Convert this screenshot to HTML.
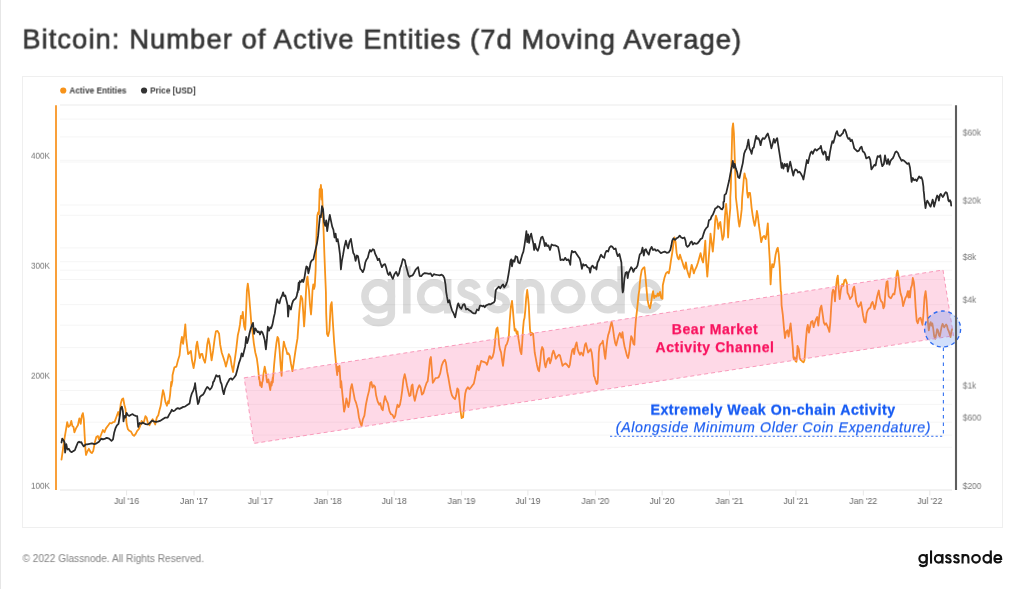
<!DOCTYPE html>
<html><head><meta charset="utf-8"><title>Bitcoin: Number of Active Entities</title>
<style>
html,body{margin:0;padding:0;background:#fff;}
body{width:1024px;height:589px;position:relative;overflow:hidden;font-family:"Liberation Sans",sans-serif;}
#edge{position:absolute;left:0;top:0;width:1px;height:589px;background:#e6e6e6;}
#title{position:absolute;font-size:27.4px;color:#363636;white-space:nowrap;line-height:38px;letter-spacing:1.05px;-webkit-text-stroke:0.65px #363636;}
#panel{position:absolute;left:22px;top:76px;width:980.8px;height:452px;border:1.5px solid #efefef;box-sizing:border-box;}
.lg{position:absolute;letter-spacing:0.02px;font-size:8.25px;font-weight:bold;color:#3a3a3a;line-height:12px;white-space:nowrap;}
.xl{position:absolute;width:60px;text-align:center;font-size:8.75px;color:#666;line-height:12px;white-space:nowrap;}
.yl{position:absolute;width:50px;text-align:right;font-size:8.2px;color:#777;line-height:12px;}
.yr{position:absolute;font-size:8.35px;color:#777;line-height:12px;}
#foot{position:absolute;letter-spacing:0.02px;font-size:10.15px;color:#808080;line-height:14px;white-space:nowrap;}
svg{position:absolute;left:0;top:0;}
.ann{position:absolute;white-space:nowrap;text-align:center;}
#title,.lg,.xl,.yl,.yr,#foot,.ann{will-change:transform;}
</style></head><body>
<div id="edge"></div>
<div id="title" style="left:22px;top:20px;transform:translate(0.30px,0.70px) rotate(0.03deg);">Bitcoin: Number of Active Entities (7d Moving Average)</div>
<div id="panel"></div>
<div class="lg" style="left:69px;top:85px;transform:translate(0.40px,0.50px) rotate(0.03deg);">Active Entities</div>
<div class="lg" style="left:150px;top:85px;transform:translate(0.20px,0.50px) rotate(0.03deg);">Price [USD]</div>
<svg width="1024" height="589" viewBox="0 0 1024 589">
<g stroke="#f5f5f5" stroke-width="1" fill="none"><line x1="60" x2="952" y1="105" y2="105" stroke-width="1.8"/><line x1="60" x2="952" y1="119.10" y2="119.10"/><line x1="60" x2="952" y1="136.92" y2="136.92"/><line x1="60" x2="952" y1="160.30" y2="160.30"/><line x1="60" x2="952" y1="162.04" y2="162.04"/><line x1="60" x2="952" y1="204.97" y2="204.97"/><line x1="60" x2="952" y1="215.25" y2="215.25"/><line x1="60" x2="952" y1="247.91" y2="247.91"/><line x1="60" x2="952" y1="261.73" y2="261.73"/><line x1="60" x2="952" y1="270.20" y2="270.20"/><line x1="60" x2="952" y1="279.55" y2="279.55"/><line x1="60" x2="952" y1="304.67" y2="304.67"/><line x1="60" x2="952" y1="325.15" y2="325.15"/><line x1="60" x2="952" y1="347.60" y2="347.60"/><line x1="60" x2="952" y1="380.10" y2="380.10"/><line x1="60" x2="952" y1="390.54" y2="390.54"/><line x1="60" x2="952" y1="404.36" y2="404.36"/><line x1="60" x2="952" y1="422.18" y2="422.18"/><line x1="60" x2="952" y1="435.05" y2="435.05"/><line x1="60" x2="952" y1="447.30" y2="447.30"/><line x1="60" x2="952" y1="490" y2="490" stroke="#e4e4e4"/><g stroke="#e8e8e8"><line x1="126.6" x2="126.6" y1="490" y2="495.5"/><line x1="194.0" x2="194.0" y1="490" y2="495.5"/><line x1="260.4" x2="260.4" y1="490" y2="495.5"/><line x1="327.8" x2="327.8" y1="490" y2="495.5"/><line x1="394.2" x2="394.2" y1="490" y2="495.5"/><line x1="461.6" x2="461.6" y1="490" y2="495.5"/><line x1="527.9" x2="527.9" y1="490" y2="495.5"/><line x1="595.4" x2="595.4" y1="490" y2="495.5"/><line x1="662.1" x2="662.1" y1="490" y2="495.5"/><line x1="729.5" x2="729.5" y1="490" y2="495.5"/><line x1="795.9" x2="795.9" y1="490" y2="495.5"/><line x1="863.3" x2="863.3" y1="490" y2="495.5"/><line x1="929.8" x2="929.8" y1="490" y2="495.5"/></g></g>
<g transform="translate(361.1,313.5) scale(0.345)" stroke="#000" opacity="0.14"><g fill="none" stroke-width="21.7" stroke-linecap="butt">
<ellipse cx="49.5" cy="-50" rx="38.5" ry="39.5"/><path d="M87.7,-100 V0 C87.7,18 73,26.5 50,26.5 C33,26.5 20,20 13,8"/>
<path d="M132.5,-137 V0"/>
<ellipse cx="211" cy="-50" rx="38.5" ry="39.5"/><path d="M251,-100 V0"/>
<path d="M337,-72 C332,-84 322,-89 312,-89 C299,-89 290,-82 290,-72 C290,-60 301,-56 313,-52 C326,-48 337,-43 337,-30 C337,-18 326,-11 313,-11 C300,-11 290,-17 286,-29"/>
<path d="M421,-72 C416,-84 406,-89 396,-89 C383,-89 374,-82 374,-72 C374,-60 385,-56 397,-52 C410,-48 421,-43 421,-30 C421,-18 410,-11 397,-11 C384,-11 374,-17 370,-29"/>
<path d="M460,-100 V0 M460,-54 C460,-77 472,-89.2 490.5,-89.2 C509,-89.2 521,-77 521,-54 V0"/>
<ellipse cx="600" cy="-50" rx="39.7" ry="39.5"/>
<ellipse cx="715.5" cy="-50" rx="38.5" ry="39.5"/><path d="M753.5,-137 V0"/>
<path d="M793,-47 H862 C862,-75 848,-89.2 827,-89.2 C806,-89.2 791.2,-72 791.2,-50 C791.2,-28 806,-10.8 828,-10.8 C843,-10.8 854,-17 861,-29"/>
</g></g>
<path d="M61.5,459.7 L63.0,448.8 L64.6,437.8 L66.2,428.4 L67.2,422.2 L68.5,426.9 L70.1,425.3 L71.3,420.9 L72.4,426.1 L73.5,426.9 L74.4,432.3 L76.0,428.4 L77.9,425.3 L79.4,418.3 L80.7,423.8 L81.8,415.9 L82.9,413.1 L83.8,419.1 L84.6,434.7 L85.4,448.8 L86.0,455.0 L87.2,451.9 L88.8,448.8 L90.7,452.2 L91.9,453.1 L93.2,451.1 L94.8,442.5 L96.3,437.0 L97.9,435.9 L99.0,439.4 L100.5,436.2 L102.9,430.0 L104.4,432.3 L106.0,428.4 L108.3,425.3 L109.9,423.0 L111.5,423.4 L113.0,422.2 L114.6,421.9 L116.2,417.5 L118.2,412.0 L119.3,415.9 L120.8,403.4 L121.9,399.5 L123.2,398.4 L124.4,405.0 L125.5,408.9 L126.6,423.8 L127.9,429.2 L129.4,430.8 L131.0,431.6 L132.6,434.7 L134.1,435.9 L135.7,433.9 L137.2,430.8 L138.8,429.2 L140.4,425.3 L141.6,420.9 L142.7,423.4 L143.8,422.2 L145.4,416.2 L146.6,417.5 L147.9,423.0 L149.4,425.3 L151.0,422.2 L152.6,419.1 L154.1,421.9 L155.2,424.5 L156.8,417.5 L158.3,415.2 L159.4,410.5 L160.7,405.8 L161.9,397.2 L163.0,390.2 L164.1,394.1 L165.4,401.9 L166.9,405.8 L168.2,401.1 L168.8,403.4 L170.1,394.8 L171.2,382.0 L171.3,386.2 L172.4,380.8 L172.5,375.2 L174.4,367.3 L176.4,366.6 L178.0,360.3 L179.5,355.6 L180.6,344.7 L181.9,336.9 L183.1,343.9 L184.2,335.3 L185.3,324.4 L186.2,338.4 L187.3,347.8 L188.1,354.1 L189.7,352.5 L190.9,350.9 L192.0,360.3 L193.6,368.1 L195.2,358.8 L196.2,346.2 L197.2,341.6 L198.3,349.4 L199.8,358.0 L200.9,354.1 L202.2,353.8 L203.4,358.8 L205.0,362.7 L206.1,355.6 L207.2,344.7 L208.4,338.4 L209.7,344.7 L210.8,354.1 L211.6,360.3 L213.1,350.9 L214.7,338.4 L215.9,331.4 L217.5,330.9 L219.1,333.8 L220.2,344.7 L221.7,352.5 L223.3,357.2 L224.8,361.9 L225.9,366.6 L227.5,360.3 L228.8,354.1 L230.3,357.2 L231.6,365.0 L233.1,372.0 L234.7,360.3 L236.2,349.4 L237.8,335.3 L238.9,330.6 L240.0,324.4 L240.9,315.8 L242.0,318.1 L242.8,311.9 L244.1,325.9 L245.2,329.8 L246.2,308.8 L246.9,290.5 L247.8,283.6 L248.7,290.5 L250.3,310.3 L251.4,324.4 L252.5,331.4 L253.8,343.1 L255.3,352.5 L256.9,358.8 L258.1,368.1 L259.1,379.4 L259.2,377.5 L260.2,385.6 L260.3,382.0 L261.7,387.2 L262.3,382.0 L262.8,380.9 L263.4,374.4 L264.7,366.6 L265.9,372.8 L267.0,382.0 L267.2,382.5 L268.4,379.4 L269.5,385.6 L270.3,390.0 L271.2,382.0 L271.6,385.6 L272.8,377.5 L272.8,382.5 L274.1,365.0 L275.3,352.5 L276.4,343.1 L277.5,336.9 L278.4,338.4 L279.5,349.4 L280.6,365.0 L281.6,375.9 L282.7,352.5 L283.8,341.6 L285.0,346.2 L286.2,349.4 L287.3,354.1 L288.4,353.3 L289.7,355.6 L290.9,363.4 L292.5,371.2 L294.1,360.3 L295.2,352.5 L296.2,346.2 L297.5,338.4 L299.2,313.4 L300.3,301.2 L301.0,295.8 L302.3,298.9 L303.3,313.4 L304.1,326.4 L305.0,313.4 L305.9,293.5 L306.7,279.8 L307.5,276.7 L308.2,284.3 L309.0,290.5 L309.9,304.2 L311.0,314.5 L311.7,305.7 L312.5,290.5 L313.3,284.3 L314.0,288.9 L314.8,285.9 L315.6,270.6 L316.6,231.2 L317.3,215.6 L318.1,212.5 L318.9,214.1 L319.7,189.2 L319.7,200.0 L320.9,185.0 L322.0,200.0 L322.0,189.2 L322.8,212.5 L323.6,231.2 L324.4,254.7 L325.2,275.0 L325.9,292.0 L326.2,313.4 L327.0,333.8 L328.1,336.1 L329.4,330.6 L330.6,305.6 L331.7,302.2 L332.8,321.2 L334.1,341.6 L335.3,355.6 L336.4,368.1 L337.2,375.2 L338.0,366.6 L338.8,371.2 L339.5,365.8 L340.3,379.1 L340.6,387.5 L341.2,381.2 L342.2,392.2 L343.3,403.1 L344.1,411.7 L345.3,406.2 L346.4,398.4 L347.2,401.6 L348.4,407.0 L349.5,401.6 L350.6,389.1 L351.9,384.1 L353.1,390.6 L354.7,399.2 L356.2,403.1 L357.8,409.4 L358.9,417.2 L360.5,423.4 L361.6,425.8 L362.8,419.5 L364.4,415.6 L365.9,404.7 L367.5,396.9 L369.1,390.6 L370.3,382.8 L371.4,382.0 L372.5,387.5 L373.8,385.2 L375.0,386.7 L376.1,395.3 L377.7,401.6 L379.2,404.7 L380.3,403.1 L381.6,408.6 L382.8,410.2 L383.9,401.6 L385.0,396.1 L386.2,400.0 L387.8,403.1 L389.4,410.9 L390.9,414.1 L392.5,414.8 L394.1,418.0 L395.3,415.6 L396.4,409.4 L397.5,404.7 L398.8,407.0 L400.0,404.7 L401.1,398.4 L402.2,390.6 L403.4,379.7 L404.7,374.2 L405.8,378.9 L406.9,385.2 L408.1,390.6 L409.4,396.1 L410.5,395.3 L411.6,385.9 L412.5,384.4 L413.6,395.3 L414.8,400.8 L415.9,396.1 L417.2,390.6 L418.3,387.5 L419.4,385.2 L420.6,387.5 L421.9,394.5 L423.4,393.0 L425.0,387.5 L426.6,382.8 L427.7,381.2 L428.8,371.9 L430.0,359.4 L430.9,357.0 L431.9,370.3 L432.8,382.8 L433.9,381.2 L435.5,378.1 L437.0,377.8 L438.6,377.3 L440.2,373.4 L441.7,365.6 L443.3,361.7 L444.8,359.7 L445.9,362.5 L447.2,371.9 L448.4,377.8 L449.5,384.4 L450.6,390.6 L451.9,395.3 L453.4,397.7 L455.0,399.2 L456.2,395.3 L457.3,388.3 L458.4,389.8 L459.4,400.0 L460.5,410.9 L461.6,418.0 L463.1,417.2 L464.1,404.7 L465.2,393.8 L466.2,389.8 L467.8,387.2 L469.4,389.1 L470.9,387.5 L472.5,385.2 L473.8,383.6 L475.0,378.1 L476.2,371.9 L477.5,365.6 L478.8,370.3 L480.0,365.6 L481.2,360.9 L482.8,361.7 L484.4,362.2 L485.9,362.8 L487.0,364.8 L488.1,360.9 L489.4,356.2 L490.2,356.4 L491.2,358.8 L492.5,357.2 L493.8,352.5 L494.8,344.7 L495.6,335.3 L496.4,329.1 L497.5,327.5 L498.4,335.3 L499.1,344.7 L500.0,349.4 L501.1,352.5 L501.9,358.8 L503.0,365.8 L503.8,358.8 L504.7,350.9 L505.8,345.5 L506.9,343.9 L508.1,340.0 L508.9,335.3 L509.7,321.2 L510.8,307.2 L512.0,300.9 L512.8,308.8 L513.8,321.2 L514.7,330.6 L515.6,329.1 L516.7,333.8 L517.5,331.4 L518.4,338.4 L519.4,344.7 L520.3,350.9 L521.4,354.1 L522.2,343.1 L523.0,329.1 L523.8,320.5 L524.5,318.1 L525.3,310.3 L526.2,297.8 L527.2,290.0 L528.1,297.8 L528.8,305.6 L529.4,318.1 L530.0,329.1 L530.8,335.3 L531.9,333.0 L533.1,333.8 L533.9,343.1 L534.7,352.5 L535.9,358.8 L537.0,365.0 L538.1,369.7 L539.1,371.2 L540.2,361.9 L541.2,350.9 L542.2,347.0 L543.3,349.4 L544.1,358.8 L544.8,364.2 L545.6,367.3 L546.9,361.9 L548.0,358.8 L549.1,358.0 L550.0,363.4 L551.1,360.3 L552.2,354.1 L553.4,350.6 L554.7,354.1 L555.8,358.8 L557.3,356.4 L558.9,354.8 L560.0,355.6 L561.2,360.3 L562.5,365.8 L564.1,364.2 L565.6,363.4 L567.2,365.0 L568.8,367.3 L569.8,365.0 L570.9,357.2 L572.2,350.2 L573.4,348.6 L574.1,354.1 L575.3,346.2 L576.6,342.3 L577.7,349.4 L578.8,352.5 L580.0,354.8 L581.2,352.5 L582.3,354.1 L583.1,355.6 L583.9,350.9 L585.0,344.7 L585.9,343.1 L587.0,347.8 L588.1,352.5 L589.4,350.9 L590.6,349.1 L591.7,352.5 L592.8,361.9 L593.9,376.0 L594.6,377.0 L595.3,379.7 L596.3,383.1 L596.8,384.1 L597.5,383.1 L598.0,377.0 L598.8,352.5 L599.5,346.2 L600.6,343.9 L601.9,343.1 L602.8,340.8 L603.8,347.8 L604.7,355.6 L605.3,358.8 L606.2,349.4 L607.3,340.0 L608.1,335.3 L609.4,331.4 L610.5,325.9 L611.6,322.0 L612.8,327.5 L614.1,336.9 L615.2,343.1 L616.2,345.5 L617.5,340.0 L618.8,335.3 L619.8,333.0 L620.6,334.5 L621.4,337.7 L622.5,332.2 L623.4,340.0 L624.5,346.2 L625.6,350.2 L626.9,355.6 L628.1,358.0 L629.2,352.5 L630.3,343.1 L631.2,336.1 L632.3,338.4 L633.4,343.9 L634.4,344.7 L635.0,330.6 L635.9,319.7 L637.0,310.3 L637.8,302.5 L638.6,294.7 L639.4,290.0 L639.7,284.4 L640.6,276.6 L641.7,270.3 L643.3,268.0 L644.4,267.2 L645.3,275.0 L646.4,287.5 L647.5,299.7 L648.8,305.9 L650.0,308.3 L651.1,302.8 L652.2,295.0 L653.1,291.1 L654.2,298.1 L655.3,295.8 L656.6,296.6 L657.8,293.4 L658.9,295.8 L660.0,291.9 L661.2,298.1 L662.5,298.9 L662.8,285.2 L664.4,278.1 L665.9,273.4 L667.5,271.9 L668.8,273.4 L669.8,268.8 L670.9,260.9 L672.2,253.1 L673.4,243.8 L674.5,237.5 L675.6,242.2 L676.6,253.1 L677.7,257.8 L678.8,259.4 L680.0,254.7 L681.2,258.6 L682.3,261.7 L683.4,265.6 L684.7,268.8 L685.9,262.5 L687.0,269.5 L688.1,273.4 L689.4,277.3 L690.6,270.3 L691.7,264.8 L692.8,268.8 L693.8,273.4 L694.8,270.3 L696.4,267.2 L698.0,262.5 L699.5,257.0 L700.6,253.1 L701.9,259.4 L703.1,262.5 L704.2,253.1 L705.3,240.6 L706.2,262.5 L707.3,276.6 L708.4,262.5 L709.7,245.3 L710.5,233.6 L711.6,242.2 L712.8,251.6 L714.1,237.5 L715.2,220.3 L715.9,215.6 L717.2,220.3 L718.3,228.9 L719.4,223.4 L720.3,221.9 L721.4,231.2 L722.5,239.8 L723.8,235.9 L725.0,215.6 L726.1,203.9 L727.2,215.6 L728.1,237.5 L729.2,220.3 L730.3,207.8 L730.3,197.5 L730.8,188.1 L731.6,156.9 L732.3,128.8 L733.1,123.3 L733.9,133.4 L734.7,156.9 L735.5,180.3 L735.9,197.5 L737.5,210.9 L738.6,221.9 L739.4,226.6 L740.6,218.8 L741.7,209.4 L742.2,197.5 L742.8,191.2 L743.8,178.8 L744.5,173.3 L745.3,177.2 L746.4,179.5 L747.2,192.8 L748.0,197.5 L748.8,192.8 L750.0,192.8 L750.6,197.5 L751.6,207.8 L752.7,215.6 L753.8,221.9 L754.7,225.8 L755.8,220.3 L756.9,210.9 L757.8,215.6 L758.9,225.0 L760.0,232.8 L761.2,242.2 L762.5,237.5 L764.1,235.9 L765.6,239.1 L766.7,233.6 L767.8,223.4 L768.8,243.8 L769.8,260.9 L770.6,284.4 L771.4,270.3 L772.2,264.1 L773.4,267.2 L774.5,262.5 L775.6,254.7 L776.9,249.2 L777.8,247.7 L778.8,254.7 L779.7,267.2 L780.3,281.2 L780.8,291.2 L781.2,292.0 L781.6,305.3 L782.8,314.7 L783.9,327.2 L785.0,338.1 L786.2,331.9 L787.5,330.3 L788.6,336.6 L789.7,328.8 L790.6,323.3 L791.7,335.0 L792.8,347.5 L793.4,357.4 L794.1,359.4 L794.8,357.4 L795.6,361.3 L796.4,361.8 L797.1,354.4 L797.5,345.9 L798.8,349.1 L799.7,357.4 L800.5,359.9 L801.5,360.4 L802.5,361.8 L803.5,362.3 L804.4,360.4 L804.9,354.4 L805.8,341.2 L806.9,328.8 L807.8,324.8 L808.9,332.7 L810.0,327.2 L811.2,321.7 L812.5,320.9 L813.6,327.2 L814.7,323.3 L815.9,319.4 L817.2,317.0 L818.3,325.6 L819.4,314.7 L820.3,308.4 L821.4,305.6 L822.5,313.1 L823.8,322.5 L825.0,324.8 L826.1,323.3 L827.2,325.6 L828.4,328.8 L829.4,331.9 L830.3,322.5 L831.2,306.9 L832.3,292.8 L833.1,289.7 L834.1,291.2 L835.0,301.4 L835.9,288.1 L837.0,278.8 L837.8,275.6 L838.6,288.1 L839.7,299.1 L840.9,289.7 L842.2,284.2 L843.3,285.8 L844.4,280.3 L845.6,279.5 L846.9,283.4 L847.5,292.8 L848.8,295.2 L850.0,299.1 L851.1,297.5 L852.2,295.9 L853.1,288.9 L854.2,286.6 L855.3,293.6 L856.2,301.4 L857.3,304.5 L858.4,306.9 L859.7,305.3 L860.9,302.2 L862.0,308.4 L863.1,315.5 L864.4,321.7 L865.6,322.5 L866.7,313.1 L867.8,310.0 L869.1,308.4 L870.3,307.7 L871.4,303.8 L872.5,301.9 L873.4,304.5 L874.5,309.2 L875.6,305.3 L876.9,297.5 L878.1,292.8 L878.8,290.5 L880.0,298.3 L881.2,301.4 L882.3,302.2 L883.4,308.4 L884.4,306.1 L885.5,291.2 L886.6,281.9 L887.5,281.1 L888.6,295.9 L889.7,297.5 L890.9,298.3 L892.2,295.9 L893.3,293.6 L894.4,294.4 L895.6,286.6 L896.6,274.1 L897.5,270.6 L898.4,275.6 L899.5,286.6 L900.6,293.6 L901.9,297.5 L903.1,306.1 L904.2,302.2 L905.3,298.3 L906.6,295.9 L907.8,291.2 L908.4,297.5 L909.4,291.2 L910.0,297.5 L910.9,288.1 L912.0,285.0 L912.8,278.0 L913.8,281.9 L914.7,291.2 L915.6,306.9 L916.7,320.9 L917.8,323.3 L919.1,318.6 L920.6,317.8 L921.9,322.5 L922.5,324.8 L923.4,314.7 L924.5,297.5 L925.6,291.2 L926.6,300.6 L927.9,322.1 L928.8,330.4 L929.7,324.5 L930.7,322.1 L931.5,325.7 L932.3,323.3 L933.3,329.2 L934.2,336.4 L935.2,338.7 L936.3,334.0 L937.1,329.2 L938.0,330.4 L939.0,335.2 L939.8,336.4 L940.7,331.6 L941.6,326.8 L942.6,323.9 L943.4,325.7 L944.2,327.4 L945.2,325.7 L946.1,324.5 L947.0,325.7 L947.8,329.2 L948.7,331.0 L949.7,334.0 L950.5,337.0 L951.4,331.6 L952.1,329.2" fill="none" stroke="#f7931a" stroke-width="1.8" stroke-linejoin="round" stroke-linecap="round"/>
<path d="M61.5,442.5 L62.2,438.6 L63.5,440.2 L64.6,442.5 L65.1,452.7 L65.7,448.8 L66.3,444.1 L66.9,447.2 L67.7,449.5 L68.8,448.8 L70.1,451.1 L71.6,452.2 L73.2,451.1 L74.8,450.3 L76.3,446.4 L77.9,442.5 L79.1,441.7 L80.2,442.5 L81.3,442.2 L82.6,444.8 L83.8,446.4 L85.7,444.4 L87.2,444.4 L89.6,443.8 L91.9,443.3 L94.3,444.1 L96.6,443.3 L99.0,441.7 L101.3,438.6 L102.9,439.4 L105.2,438.6 L106.8,437.8 L109.1,438.6 L111.5,440.9 L113.0,439.4 L114.1,433.1 L115.4,428.4 L116.9,425.3 L118.5,423.8 L119.8,415.9 L120.8,408.1 L121.9,406.6 L122.9,411.2 L123.5,421.4 L124.4,415.9 L125.5,417.5 L126.6,412.8 L127.9,415.2 L129.4,415.9 L131.0,414.7 L132.6,414.1 L134.1,415.2 L135.7,415.9 L137.2,416.2 L138.2,426.9 L139.6,423.0 L141.2,423.8 L142.7,422.5 L144.3,423.4 L145.8,424.2 L147.4,424.5 L149.0,423.8 L150.5,422.2 L152.1,420.6 L153.7,421.4 L156.0,421.9 L158.3,421.4 L160.7,420.6 L163.0,419.1 L165.4,417.5 L167.7,417.5 L169.3,414.4 L170.8,412.0 L171.9,409.7 L173.2,411.2 L174.8,410.5 L176.3,408.9 L177.9,408.1 L179.4,408.9 L181.0,408.1 L183.3,406.9 L184.9,406.6 L187.2,405.0 L189.6,403.4 L190.7,397.2 L191.9,393.3 L193.5,390.2 L194.8,385.5 L195.1,383.1 L195.8,389.4 L196.9,397.2 L197.9,404.2 L199.0,401.9 L199.8,397.2 L201.3,395.6 L202.9,394.8 L204.4,392.5 L205.7,389.4 L207.2,387.0 L208.3,387.8 L209.9,389.7 L211.5,387.8 L212.7,384.7 L213.1,382.0 L213.8,381.6 L214.7,379.1 L216.2,375.2 L217.8,376.7 L219.4,375.6 L220.6,382.0 L221.6,384.1 L222.7,390.3 L223.8,394.2 L225.0,388.8 L226.6,384.8 L227.8,382.0 L228.0,382.0 L229.5,379.1 L231.1,378.3 L232.2,379.8 L234.2,377.5 L235.8,375.2 L237.3,369.7 L238.9,363.4 L240.5,358.8 L241.6,353.3 L242.8,356.4 L244.1,350.9 L245.2,346.2 L246.2,336.9 L247.2,343.1 L248.3,339.2 L249.4,333.8 L250.6,329.1 L251.9,325.2 L253.0,322.8 L254.1,333.8 L255.3,328.3 L256.6,330.6 L257.7,332.2 L258.8,331.4 L260.0,334.5 L261.2,331.4 L262.3,332.2 L263.4,335.3 L264.7,340.0 L265.9,349.4 L267.0,338.4 L267.8,326.7 L269.1,330.6 L270.2,327.5 L271.2,328.3 L272.5,324.4 L273.8,317.3 L274.8,313.4 L275.9,305.6 L277.2,299.4 L278.4,302.5 L279.5,303.3 L280.6,298.6 L281.9,296.2 L283.1,292.3 L284.2,296.2 L285.3,295.5 L286.6,300.9 L287.5,304.8 L288.1,316.6 L289.1,305.6 L290.0,308.0 L290.9,309.5 L292.0,304.1 L293.1,300.9 L294.4,299.4 L295.6,298.6 L296.7,296.2 L297.5,292.0 L297.8,292.3 L298.6,282.8 L298.8,290.0 L299.7,281.2 L300.9,282.0 L302.2,279.7 L303.3,282.0 L304.4,278.1 L305.6,270.3 L306.4,266.4 L307.5,267.2 L308.4,273.4 L309.5,268.8 L310.6,262.5 L311.9,260.2 L313.4,259.4 L314.7,253.1 L315.8,248.4 L316.9,243.8 L318.1,235.9 L319.1,225.0 L320.0,215.6 L320.9,217.2 L322.0,206.2 L323.1,209.4 L324.1,221.9 L325.2,225.8 L326.2,220.3 L327.2,231.2 L328.3,223.4 L329.8,214.8 L330.9,220.3 L332.2,226.6 L333.4,229.7 L334.5,237.5 L335.6,233.6 L336.6,241.4 L337.7,239.1 L338.8,245.3 L340.0,254.7 L340.9,269.5 L341.9,260.9 L343.1,254.7 L344.4,246.9 L345.9,240.6 L347.0,245.3 L348.1,248.4 L349.4,242.2 L350.9,238.8 L352.2,246.9 L353.3,253.1 L354.4,254.7 L355.6,260.9 L356.9,255.5 L358.0,256.2 L359.1,262.5 L360.3,268.8 L361.6,270.3 L362.8,272.2 L364.2,268.8 L365.3,262.5 L366.6,259.4 L367.8,257.8 L368.9,253.1 L370.0,250.0 L371.2,251.6 L372.8,249.2 L374.1,250.0 L375.2,253.9 L376.7,257.0 L377.8,260.2 L379.1,258.6 L380.3,262.5 L381.9,267.2 L383.4,264.8 L385.0,264.1 L386.1,267.2 L387.7,273.4 L388.8,275.0 L390.0,272.2 L391.6,276.6 L392.8,278.9 L394.4,274.2 L396.2,271.9 L397.8,275.8 L399.1,273.4 L400.2,268.0 L401.2,265.6 L402.8,259.1 L404.8,260.2 L405.9,265.6 L407.2,270.3 L408.4,275.0 L409.5,276.9 L411.1,275.8 L412.7,275.3 L414.2,272.7 L415.8,269.5 L418.1,267.2 L419.7,275.8 L421.2,276.2 L422.8,274.2 L424.7,273.1 L426.7,273.4 L429.1,273.8 L430.6,273.4 L432.2,276.2 L433.8,274.2 L435.3,274.7 L437.7,275.0 L439.7,275.3 L441.6,274.7 L443.1,275.8 L444.4,278.1 L445.5,284.4 L446.2,292.0 L446.9,296.2 L448.1,302.5 L449.4,300.2 L450.5,305.6 L452.0,310.3 L453.6,313.4 L455.2,317.3 L456.2,311.9 L457.5,305.6 L458.3,303.3 L459.8,307.2 L461.4,308.8 L463.0,304.8 L464.5,304.1 L466.1,309.5 L467.7,308.8 L469.2,310.3 L470.8,311.1 L472.3,312.7 L473.9,313.4 L475.5,313.4 L477.0,309.5 L478.6,310.3 L480.0,305.6 L481.2,305.6 L482.3,306.4 L483.4,305.6 L484.7,307.2 L485.9,305.6 L487.5,304.8 L489.1,304.1 L490.6,304.4 L492.2,303.3 L493.8,302.5 L494.8,300.9 L495.3,294.7 L495.6,292.0 L495.9,290.0 L497.2,288.3 L498.8,286.7 L500.3,288.3 L501.9,285.6 L503.1,284.4 L504.2,287.5 L505.8,285.2 L507.3,281.2 L508.4,275.0 L509.4,268.8 L510.5,260.9 L511.2,259.4 L512.0,266.4 L513.1,260.2 L514.4,261.7 L515.6,256.2 L517.2,257.0 L518.3,262.5 L519.8,263.3 L520.9,259.4 L522.2,254.7 L523.4,251.6 L524.5,245.3 L525.6,237.5 L526.4,231.2 L527.2,242.2 L528.1,234.4 L529.1,243.0 L530.0,236.7 L531.2,233.6 L532.3,239.1 L533.4,243.8 L534.1,250.0 L535.0,243.8 L536.2,248.4 L537.8,250.8 L539.1,246.9 L540.2,241.4 L541.2,237.5 L542.5,236.7 L543.8,240.6 L544.8,246.1 L545.9,243.0 L547.2,246.1 L548.4,245.3 L550.0,250.0 L551.6,244.5 L553.1,245.3 L555.0,245.3 L556.6,246.1 L558.1,246.9 L559.4,253.1 L560.5,260.2 L562.0,259.4 L563.6,260.2 L565.2,257.8 L566.7,260.2 L568.3,259.4 L569.4,261.7 L570.3,264.8 L570.9,256.2 L571.9,250.8 L573.4,252.3 L575.0,251.6 L576.6,253.9 L578.1,256.2 L579.7,258.6 L580.8,262.5 L581.9,268.8 L583.1,264.1 L584.4,265.6 L585.9,264.8 L587.5,267.2 L589.1,268.0 L590.2,272.7 L591.2,267.2 L592.5,265.6 L594.1,268.0 L595.6,267.2 L596.4,269.5 L597.5,262.5 L598.8,260.2 L600.0,257.0 L601.1,254.7 L602.7,257.0 L604.2,257.8 L605.3,253.1 L606.6,250.8 L608.1,251.6 L609.4,247.7 L610.9,246.1 L612.5,246.9 L614.1,249.2 L615.6,248.4 L616.7,253.1 L617.8,256.2 L619.4,253.9 L620.3,257.8 L621.4,262.5 L621.9,275.0 L622.2,287.5 L622.7,292.5 L623.3,290.6 L623.8,285.2 L624.5,278.1 L625.6,272.7 L626.9,271.9 L627.7,278.1 L628.4,273.4 L629.7,270.3 L631.2,267.2 L632.3,268.8 L633.4,271.9 L634.7,268.8 L636.2,268.0 L637.5,265.6 L638.6,260.2 L639.7,254.7 L640.2,253.9 L641.2,253.1 L642.5,247.7 L643.8,255.5 L644.8,250.0 L645.9,249.2 L647.2,252.3 L648.8,254.7 L650.0,250.0 L651.6,246.9 L653.1,250.0 L654.7,249.2 L656.2,250.8 L657.8,250.0 L659.4,251.6 L660.9,253.1 L662.8,252.3 L664.7,251.6 L666.7,252.8 L668.8,252.3 L670.3,250.0 L671.4,245.3 L672.2,240.6 L673.4,238.3 L675.0,239.8 L676.6,238.3 L678.1,237.5 L679.7,235.6 L681.2,237.5 L682.8,238.3 L684.4,237.5 L685.5,240.6 L686.2,245.3 L687.5,246.9 L689.1,245.3 L690.6,242.2 L691.7,241.4 L692.8,244.5 L694.4,243.0 L695.9,243.8 L697.5,243.4 L699.1,241.4 L700.6,239.1 L702.2,238.3 L703.4,234.4 L704.7,230.5 L706.2,228.1 L707.8,226.6 L708.9,220.3 L710.5,219.5 L711.6,216.4 L712.8,214.8 L714.1,211.7 L715.2,208.6 L716.7,207.8 L717.8,206.2 L719.4,207.0 L720.6,208.6 L722.2,209.4 L723.4,207.0 L723.4,202.0 L724.1,201.6 L724.5,195.2 L726.1,193.6 L727.7,186.6 L729.2,180.3 L730.3,174.1 L731.6,167.8 L732.8,160.8 L733.9,167.8 L734.7,163.9 L735.9,168.6 L737.0,171.7 L738.1,177.2 L739.4,178.0 L740.6,172.5 L741.7,167.8 L742.8,163.1 L744.1,153.8 L745.3,150.6 L746.4,149.1 L747.5,144.4 L748.4,139.7 L749.5,148.3 L750.6,150.6 L751.6,153.8 L752.7,148.3 L753.8,147.5 L755.0,141.2 L756.2,135.8 L757.3,138.9 L758.4,138.1 L759.7,141.2 L760.6,145.2 L761.6,140.5 L762.8,138.1 L764.4,138.9 L765.6,137.3 L766.7,135.0 L767.8,133.4 L769.1,138.1 L770.3,142.8 L771.4,148.3 L772.5,144.4 L773.8,138.9 L775.0,142.8 L776.1,139.7 L777.2,138.1 L778.1,144.4 L779.2,151.4 L780.3,158.4 L781.6,167.8 L782.3,163.1 L783.4,168.6 L784.7,163.9 L785.9,166.2 L787.0,163.9 L787.8,171.7 L789.1,166.2 L790.2,161.6 L791.2,166.2 L792.2,170.9 L793.3,175.6 L794.4,170.9 L795.6,169.4 L796.9,170.2 L798.0,172.5 L799.5,171.7 L801.1,174.1 L802.7,177.2 L803.4,179.5 L804.7,172.5 L805.8,166.2 L806.9,160.0 L808.1,163.1 L809.4,156.9 L810.5,153.0 L811.6,151.4 L812.8,153.8 L814.1,150.6 L815.2,149.1 L816.7,150.6 L818.3,149.1 L819.8,148.3 L820.9,145.9 L822.2,152.2 L823.4,154.5 L824.5,151.4 L825.6,152.2 L826.6,160.0 L827.7,156.9 L828.8,160.0 L830.0,152.2 L831.2,145.9 L832.3,141.2 L833.4,142.8 L834.7,138.1 L835.9,133.4 L837.0,131.1 L838.1,135.0 L839.4,135.8 L840.6,135.8 L841.7,134.2 L842.8,133.4 L843.8,130.3 L844.8,129.5 L845.9,131.9 L847.2,136.6 L848.4,138.9 L849.5,138.1 L850.6,141.2 L851.9,139.7 L853.1,143.6 L854.2,148.3 L855.8,149.8 L857.3,151.4 L858.9,150.6 L860.5,147.5 L861.6,146.7 L862.8,151.4 L864.1,152.2 L865.2,154.5 L866.2,158.4 L867.5,157.7 L869.1,156.9 L870.3,160.0 L871.4,169.4 L873.0,167.0 L874.5,164.7 L875.6,165.5 L876.6,160.0 L877.7,156.1 L879.2,156.9 L880.3,155.3 L881.2,161.6 L882.3,166.2 L883.9,163.9 L885.0,155.3 L885.9,160.0 L887.0,163.9 L888.1,159.2 L889.4,164.7 L890.6,160.8 L891.7,159.2 L892.8,158.4 L894.1,155.3 L895.3,152.2 L896.4,151.4 L898.0,153.0 L899.1,156.1 L900.3,158.4 L901.6,160.8 L902.7,160.0 L904.2,160.8 L905.8,162.3 L907.3,163.9 L908.9,163.1 L910.0,167.8 L910.9,175.6 L911.6,181.9 L912.8,178.0 L914.1,180.3 L915.6,179.5 L916.7,181.1 L917.8,178.8 L919.1,176.4 L920.3,178.0 L921.4,177.2 L922.5,180.3 L923.4,186.6 L923.6,190.4 L924.1,194.4 L924.3,197.5 L925.0,203.6 L925.5,208.2 L926.3,203.6 L927.3,200.6 L928.5,202.6 L929.6,205.2 L930.6,206.7 L931.6,203.6 L932.6,199.6 L933.4,202.6 L934.1,206.7 L935.2,202.6 L936.2,198.5 L937.2,195.5 L938.2,197.0 L938.9,200.6 L939.9,195.0 L940.8,193.9 L941.8,195.5 L942.8,197.0 L943.8,195.5 L944.8,193.4 L945.9,192.2 L946.9,192.9 L947.7,196.5 L948.4,200.6 L949.1,201.6 L949.9,200.1 L950.8,201.6 L951.2,205.7" fill="none" stroke="#2b2b2b" stroke-width="1.75" stroke-linejoin="round" stroke-linecap="round"/>
<polygon points="244.2,377.8 943,270 953.5,335.8 253.9,443.4" fill="#fb5f9c" fill-opacity="0.24" stroke="#f896b7" stroke-width="0.95" stroke-dasharray="4 3"/>
<circle cx="942.6" cy="329" r="18" fill="#5b8def" fill-opacity="0.28" stroke="#2f6bf0" stroke-width="1.35" stroke-dasharray="4 3.5"/>
<line x1="943.4" x2="943.4" y1="347.5" y2="436" stroke="#3a76f2" stroke-width="1.15" stroke-dasharray="3.5 4"/>
<line x1="610" x2="943.4" y1="436.3" y2="436.3" stroke="#2f6bf0" stroke-width="1.05" stroke-dasharray="2.2 2.2"/>
<circle cx="63.25" cy="90.5" r="3.1" fill="#f7931a"/><circle cx="144.06" cy="90.5" r="3.1" fill="#333"/>
<line x1="56" x2="56" y1="105.2" y2="490" stroke="#f9a03a" stroke-width="2"/>
<line x1="956" x2="956" y1="105.2" y2="490" stroke="#5e5e5e" stroke-width="2.1"/>
<g transform="translate(918.3,563.6) scale(0.0962)" stroke="#111"><g fill="none" stroke-width="21.7" stroke-linecap="butt">
<ellipse cx="49.5" cy="-50" rx="38.5" ry="39.5"/><path d="M87.7,-100 V0 C87.7,18 73,26.5 50,26.5 C33,26.5 20,20 13,8"/>
<path d="M132.5,-137 V0"/>
<ellipse cx="211" cy="-50" rx="38.5" ry="39.5"/><path d="M251,-100 V0"/>
<path d="M337,-72 C332,-84 322,-89 312,-89 C299,-89 290,-82 290,-72 C290,-60 301,-56 313,-52 C326,-48 337,-43 337,-30 C337,-18 326,-11 313,-11 C300,-11 290,-17 286,-29"/>
<path d="M421,-72 C416,-84 406,-89 396,-89 C383,-89 374,-82 374,-72 C374,-60 385,-56 397,-52 C410,-48 421,-43 421,-30 C421,-18 410,-11 397,-11 C384,-11 374,-17 370,-29"/>
<path d="M460,-100 V0 M460,-54 C460,-77 472,-89.2 490.5,-89.2 C509,-89.2 521,-77 521,-54 V0"/>
<ellipse cx="600" cy="-50" rx="39.7" ry="39.5"/>
<ellipse cx="715.5" cy="-50" rx="38.5" ry="39.5"/><path d="M753.5,-137 V0"/>
<path d="M793,-47 H862 C862,-75 848,-89.2 827,-89.2 C806,-89.2 791.2,-72 791.2,-50 C791.2,-28 806,-10.8 828,-10.8 C843,-10.8 854,-17 861,-29"/>
</g></g>
</svg>
<div class="xl" style="left:96px;top:495px;transform:translate(0.60px,0.00px) rotate(0.03deg);">Jul '16</div><div class="xl" style="left:164px;top:495px;transform:translate(0.00px,0.00px) rotate(0.03deg);">Jan '17</div><div class="xl" style="left:230px;top:495px;transform:translate(0.40px,0.00px) rotate(0.03deg);">Jul '17</div><div class="xl" style="left:297px;top:495px;transform:translate(0.80px,0.00px) rotate(0.03deg);">Jan '18</div><div class="xl" style="left:364px;top:495px;transform:translate(0.20px,0.00px) rotate(0.03deg);">Jul '18</div><div class="xl" style="left:431px;top:495px;transform:translate(0.60px,0.00px) rotate(0.03deg);">Jan '19</div><div class="xl" style="left:497px;top:495px;transform:translate(0.90px,0.00px) rotate(0.03deg);">Jul '19</div><div class="xl" style="left:565px;top:495px;transform:translate(0.40px,0.00px) rotate(0.03deg);">Jan '20</div><div class="xl" style="left:632px;top:495px;transform:translate(0.10px,0.00px) rotate(0.03deg);">Jul '20</div><div class="xl" style="left:699px;top:495px;transform:translate(0.50px,0.00px) rotate(0.03deg);">Jan '21</div><div class="xl" style="left:765px;top:495px;transform:translate(0.90px,0.00px) rotate(0.03deg);">Jul '21</div><div class="xl" style="left:833px;top:495px;transform:translate(0.30px,0.00px) rotate(0.03deg);">Jan '22</div><div class="xl" style="left:899px;top:495px;transform:translate(0.80px,0.00px) rotate(0.03deg);">Jul '22</div> <div class="yl" style="left:0px;top:150px;transform:translate(0.00px,0.75px) rotate(0.03deg);">400K</div><div class="yl" style="left:0px;top:260px;transform:translate(0.00px,0.75px) rotate(0.03deg);">300K</div><div class="yl" style="left:0px;top:370px;transform:translate(0.00px,0.70px) rotate(0.03deg);">200K</div><div class="yl" style="left:0px;top:480px;transform:translate(0.00px,0.80px) rotate(0.03deg);">100K</div> <div class="yr" style="left:962px;top:126px;transform:translate(0.70px,0.60px) rotate(0.03deg);">$60k</div><div class="yr" style="left:962px;top:194px;transform:translate(0.70px,0.60px) rotate(0.03deg);">$20k</div><div class="yr" style="left:962px;top:251px;transform:translate(0.70px,0.00px) rotate(0.03deg);">$8k</div><div class="yr" style="left:962px;top:293px;transform:translate(0.70px,0.80px) rotate(0.03deg);">$4k</div><div class="yr" style="left:962px;top:379px;transform:translate(0.70px,0.60px) rotate(0.03deg);">$1k</div><div class="yr" style="left:962px;top:411px;transform:translate(0.70px,0.60px) rotate(0.03deg);">$600</div><div class="yr" style="left:962px;top:480px;transform:translate(0.70px,0.00px) rotate(0.03deg);">$200</div>
<div class="ann" style="left:615px;top:321px;transform:translate(0.00px,0.20px) rotate(0.03deg);width:200px;font-size:14px;line-height:17.55px;font-weight:bold;color:#f8125e;letter-spacing:0.58px;-webkit-text-stroke:0.25px #f8125e;">Bear Market<br>Activity Channel</div>
<div class="ann" style="left:573px;top:400px;transform:translate(0.00px,0.70px) rotate(0.03deg);width:400px;font-size:14.2px;line-height:18px;font-weight:bold;color:#155af3;letter-spacing:0.515px;-webkit-text-stroke:0.3px #155af3;">Extremely Weak On-chain Activity</div>
<div class="ann" style="left:573px;top:418px;transform:translate(0.00px,0.30px) rotate(0.03deg);width:401px;font-size:14.2px;line-height:18px;font-style:italic;color:#1a5cf0;letter-spacing:0.617px;-webkit-text-stroke:0.2px #1a5cf0;">(Alongside Minimum Older Coin Expendature)</div>
<div id="foot" style="left:22px;top:552px;transform:translate(0.50px,0.10px) rotate(0.03deg);">© 2022 Glassnode. All Rights Reserved.</div>
</body></html>
